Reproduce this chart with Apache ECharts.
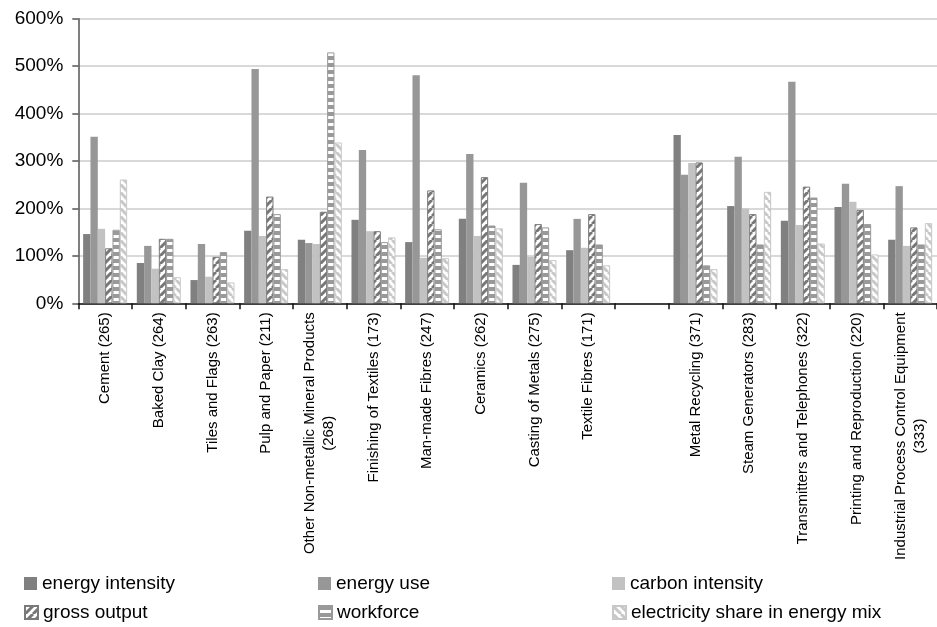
<!DOCTYPE html>
<html>
<head>
<meta charset="utf-8">
<script src="https://cdn.jsdelivr.net/npm/echarts@6/dist/echarts.min.js"></script>
<style>
html,body{margin:0;padding:0;background:#fff;}
#chart{width:937px;height:627px;}
</style>
</head>
<body>
<div id="chart"></div>
<script>
const categories = [
  'Cement (265)', 'Baked Clay (264)', 'Tiles and Flags (263)', 'Pulp and Paper (211)',
  'Other Non-metallic Mineral Products\n(268)', 'Finishing of Textiles (173)',
  'Man-made Fibres (247)', 'Ceramics (262)', 'Casting of Metals (275)', 'Textile Fibres (171)',
  '', 'Metal Recycling (371)', 'Steam Generators (283)', 'Transmitters and Telephones (322)',
  'Printing and Reproduction (220)', 'Industrial Process Control Equipment\n(333)'
];
const seriesNames = ['energy intensity', 'energy use', 'carbon intensity', 'gross output', 'workforce', 'electricity share in energy mix'];
const energyIntensity  = [146, 85, 49, 153, 134, 176, 129, 178, 81, 112, null, 355, 205, 174, 203, 134];
const energyUse        = [351, 121, 125, 494, 127, 323, 481, 315, 254, 178, null, 271, 309, 467, 252, 247];
const carbonIntensity  = [157, 73, 56, 142, 125, 152, 96, 142, 98, 117, null, 296, 200, 165, 214, 121];
const grossOutput      = [116, 136, 98, 225, 193, 152, 238, 266, 167, 188, null, 297, 188, 246, 197, 160];
const workforce        = [155, 136, 108, 188, 529, 129, 156, 164, 160, 124, null, 80, 124, 223, 167, 124];
const electricityShare = [261, 55, 44, 72, 339, 139, 95, 158, 91, 80, null, 72, 235, 126, 103, 169];
const yTicks = [0, 100, 200, 300, 400, 500, 600];

const FONT = '"Liberation Sans", Arial, sans-serif';

function diagPattern(color, dir, size, lw) {
  const c = document.createElement('canvas');
  c.width = size; c.height = size;
  const g = c.getContext('2d');
  g.fillStyle = '#fff'; g.fillRect(0, 0, size, size);
  g.strokeStyle = color; g.lineWidth = lw;
  g.beginPath();
  for (let k = -1; k <= 1; k++) {
    if (dir === '/') { g.moveTo(k * size, size); g.lineTo(k * size + size, 0); }
    else { g.moveTo(k * size, 0); g.lineTo(k * size + size, size); }
  }
  g.stroke();
  return { image: c, repeat: 'repeat' };
}
function horizPattern(color, h, band) {
  const c = document.createElement('canvas');
  c.width = 8; c.height = h;
  const g = c.getContext('2d');
  g.fillStyle = '#fff'; g.fillRect(0, 0, 8, h);
  g.fillStyle = color; g.fillRect(0, 0, 8, band);
  return { image: c, repeat: 'repeat' };
}

const styles = [
  { color: '#808080' },
  { color: '#979797' },
  { color: '#c2c2c2' },
  { color: diagPattern('#777777', '/', 8, 3), borderColor: '#7a7a7a', borderWidth: 1 },
  { color: horizPattern('#999999', 7, 4), borderColor: '#999999', borderWidth: 1 },
  { color: diagPattern('#c8c8c8', '\\', 8, 3), borderColor: '#c8c8c8', borderWidth: 1 }
];
const dataArrays = [energyIntensity, energyUse, carbonIntensity, grossOutput, workforce, electricityShare];

const mc = document.createElement('canvas').getContext('2d');
mc.font = '15px ' + FONT;

const legendPos = [
  { left: 19, top: 569 }, { left: 313, top: 569 }, { left: 607, top: 569 },
  { left: 19, top: 598 }, { left: 313, top: 598 }, { left: 607, top: 598 }
];

const chart = echarts.init(document.getElementById('chart'), null, { renderer: 'canvas' });
chart.setOption({
  animation: false,
  backgroundColor: '#ffffff',
  textStyle: { fontFamily: FONT },
  grid: { left: 78.3, right: -9.5, top: 18.7, bottom: 323.7, containLabel: false },
  legend: seriesNames.map((n, i) => ({
    data: [n],
    left: legendPos[i].left, top: legendPos[i].top,
    itemWidth: 13, itemHeight: 13, icon: 'rect', itemGap: 4,
    selectedMode: false,
    textStyle: { fontSize: 19, color: '#000', fontFamily: FONT }
  })),
  xAxis: {
    type: 'category',
    data: categories,
    axisLine: { lineStyle: { color: '#111', width: 1.5 } },
    axisTick: { show: true, length: 6, lineStyle: { color: '#111', width: 1.5 } },
    axisLabel: {
      interval: 0, rotate: 90, margin: 9,
      fontSize: 15, color: '#000', fontFamily: FONT,
      formatter: function (v) {
        if (v.indexOf('\n') < 0) return v;
        const parts = v.split('\n');
        return '{a|' + parts[0] + '}\n{b|' + parts[1] + '}';
      },
      rich: {
        a: { fontSize: 15, fontFamily: FONT, color: '#000', lineHeight: 19 },
        b: { fontSize: 15, fontFamily: FONT, color: '#000', lineHeight: 19, align: 'center',
             width: Math.ceil(mc.measureText('Other Non-metallic Mineral Products').width) }
      }
    },
    splitLine: { show: false }
  },
  yAxis: {
    type: 'value', min: 0, max: 600, interval: 100,
    axisLine: { show: true, lineStyle: { color: '#555', width: 1.5 } },
    axisTick: { show: true, length: 6, lineStyle: { color: '#555', width: 1.5 } },
    axisLabel: { fontSize: 19, color: '#000', margin: 15, fontFamily: FONT,
      formatter: function (v) { return yTicks.indexOf(v) >= 0 ? v + '%' : ''; } },
    splitLine: { lineStyle: { color: '#cccccc', width: 1.5 } }
  },
  series: seriesNames.map((n, i) => ({
    name: n, type: 'bar', data: dataArrays[i],
    barGap: '0%', barCategoryGap: '18%',
    itemStyle: styles[i]
  }))
});
</script>
</body>
</html>
